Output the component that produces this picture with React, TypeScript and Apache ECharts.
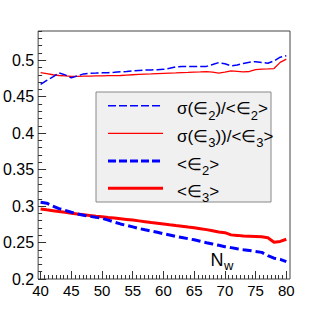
import React, { useEffect, useRef } from 'react';
import * as echarts from 'echarts';

const nw = [40, 41, 42, 43, 44, 45, 46, 47, 48, 49, 50, 51, 52, 53, 54, 55, 56, 57, 58, 59, 60,
  61, 62, 63, 64, 65, 66, 67, 68, 69, 70, 71, 72, 73, 74, 75, 76, 77, 78, 79, 80];

const sigmaEps2 = [0.4668, 0.4723, 0.477, 0.4826, 0.4798, 0.4757, 0.4785, 0.4812, 0.4822, 0.4823, 0.4826,
  0.4829, 0.4833, 0.484, 0.4846, 0.4853, 0.486, 0.4864, 0.4867, 0.4870, 0.4874,
  0.4888, 0.4908, 0.4912, 0.4912, 0.4912, 0.4912, 0.4915, 0.494, 0.4967, 0.495,
  0.4922, 0.4935, 0.4955, 0.4972, 0.498, 0.4968, 0.4958, 0.499, 0.5041, 0.506];

const sigmaEps3 = [0.483, 0.4815, 0.480, 0.479, 0.4785, 0.4778, 0.4778, 0.478, 0.4782, 0.4785, 0.4786,
  0.4787, 0.4787, 0.479, 0.4795, 0.480, 0.4805, 0.481, 0.4813, 0.4817, 0.482,
  0.4823, 0.4826, 0.483, 0.4833, 0.4837, 0.484, 0.4844, 0.4835, 0.4822, 0.4835,
  0.4853, 0.4847, 0.484, 0.4845, 0.487, 0.4877, 0.488, 0.4885, 0.497, 0.5015];

const meanEps2 = [0.3052, 0.304, 0.300, 0.2965, 0.294, 0.2915, 0.2892, 0.2875, 0.286, 0.2845, 0.2833,
  0.2808, 0.278, 0.2755, 0.2735, 0.2715, 0.2693, 0.2675, 0.2658, 0.264, 0.262,
  0.2603, 0.2585, 0.257, 0.2553, 0.2537, 0.2518, 0.2498, 0.248, 0.2462, 0.2443,
  0.243, 0.2415, 0.2402, 0.239, 0.2378, 0.2365, 0.232, 0.2285, 0.227, 0.2237];

const meanEps3 = [0.296, 0.2948, 0.2937, 0.2925, 0.2915, 0.2902, 0.289, 0.288, 0.287, 0.286, 0.2852,
  0.2843, 0.2835, 0.2826, 0.2817, 0.2808, 0.2797, 0.2786, 0.2775, 0.2765, 0.2755,
  0.2743, 0.2732, 0.2722, 0.2712, 0.2703, 0.269, 0.2677, 0.2662, 0.2645, 0.2635,
  0.2605, 0.2598, 0.2588, 0.2585, 0.2582, 0.2578, 0.2565, 0.2505, 0.2515, 0.2545];

const xTickLabels = [40, 45, 50, 55, 60, 65, 70, 75, 80];
const yTickLabels = [0.2, 0.25, 0.3, 0.35, 0.4, 0.45, 0.5];

const legendNames = ['σ(∈2)/<∈2>', 'σ(∈3))/<∈3>', '<∈2>', '<∈3>'];

const BLUE = '#0000ff';
const RED = '#ff0000';
const FONT = 'Liberation Sans, Arial, sans-serif';

function minorValues(from: number, to: number, step: number): number[] {
  const out: number[] = [];
  const n = Math.round((to - from) / step);
  for (let i = 0; i <= n; i++) out.push(Math.round((from + i * step) * 10000) / 10000);
  return out;
}

export default function App() {
  const ref = useRef<HTMLDivElement>(null);
  useEffect(() => {
    if (!ref.current) return;
    const chart = echarts.init(ref.current, null, { renderer: 'svg' });
    const xMin = 39.6, xMax = 80.6, yMin = 0.2, yMax = 0.54;
    const xMinor = minorValues(40, 80, 0.625);
    const yMinor = minorValues(0.2, 0.54, 0.01);
    const tickColor = '#333';

    const mk = (vals: number[]) => nw.map((x, i) => [x, vals[i]]);

    const rich = {
      m: { fontSize: 17, fontFamily: FONT, color: '#000', lineHeight: 30 },
      s: { fontSize: 13, fontFamily: FONT, color: '#000', lineHeight: 14, padding: [13, 0, 0, 0] },
    };
    const legendText = [
      '{m|σ(∈}{s|2}{m|)/<∈}{s|2}{m|>}',
      '{m|σ(∈}{s|3}{m|))/<∈}{s|3}{m|>}',
      '{m|<∈}{s|2}{m|>}',
      '{m|<∈}{s|3}{m|>}',
    ];
    const rowsY = [105.7, 133.3, 161, 188.3];
    const legendStyles = [
      { stroke: BLUE, lineWidth: 1.5, lineDash: [8, 3] },
      { stroke: RED, lineWidth: 1.3, lineDash: null as any },
      { stroke: BLUE, lineWidth: 3, lineDash: [8, 3] },
      { stroke: RED, lineWidth: 3, lineDash: null as any },
    ];

    const graphics: any[] = [
      {
        type: 'rect', shape: { x: 96, y: 92, width: 175, height: 110 },
        style: { fill: '#f0f0f0', stroke: '#888', lineWidth: 1 }, z: 10,
      },
    ];
    rowsY.forEach((y, i) => {
      graphics.push({
        type: 'line', shape: { x1: 108, y1: y, x2: 163, y2: y },
        style: { ...legendStyles[i], fill: 'none' }, z: 11,
      });
      graphics.push({
        type: 'text', x: 177, y: y + 3, z: 11,
        style: { text: legendText[i], rich, verticalAlign: 'middle', align: 'left' },
        name: legendNames[i],
      });
    });
    graphics.push({
      type: 'text', x: 210.5, y: 260, z: 11,
      style: { text: 'N', fontSize: 18, fontFamily: FONT, fill: '#000', verticalAlign: 'middle' },
    });
    graphics.push({
      type: 'text', x: 224, y: 265, z: 11,
      style: { text: 'w', fontSize: 13, fontFamily: FONT, fill: '#000', verticalAlign: 'middle' },
    });

    const series: any[] = [
      { name: legendNames[1], data: mk(sigmaEps3), color: RED, lineStyle: { color: RED, width: 1.3 } },
      { name: legendNames[0], data: mk(sigmaEps2), color: BLUE, lineStyle: { color: BLUE, width: 1.5, type: [8, 3] } },
      { name: legendNames[3], data: mk(meanEps3), color: RED, lineStyle: { color: RED, width: 3 } },
      { name: legendNames[2], data: mk(meanEps2), color: BLUE, lineStyle: { color: BLUE, width: 3, type: [9, 4] } },
    ].map((s) => ({ ...s, type: 'line', showSymbol: false, symbol: 'none', xAxisIndex: 0, yAxisIndex: 0, clip: true }));

    chart.setOption({
      animation: false,
      backgroundColor: '#fff',
      grid: { left: 33.3, top: 31, right: 32, bottom: 32, show: true, borderColor: '#444', borderWidth: 1, backgroundColor: 'transparent' },
      xAxis: [
        {
          type: 'value', min: xMin, max: xMax, position: 'bottom',
          axisLine: { show: false }, splitLine: { show: false },
          axisTick: { show: true, inside: true, length: 8, customValues: xTickLabels, lineStyle: { color: tickColor } },
          axisLabel: { customValues: xTickLabels, fontSize: 15, fontFamily: FONT, color: '#000', margin: 4 },
        },
        {
          type: 'value', min: xMin, max: xMax, position: 'bottom',
          axisLine: { show: false }, splitLine: { show: false },
          axisTick: { show: true, inside: true, length: 4, customValues: xMinor, lineStyle: { color: tickColor } },
          axisLabel: { show: false },
        },
      ],
      yAxis: [
        {
          type: 'value', min: yMin, max: yMax, position: 'left',
          axisLine: { show: false }, splitLine: { show: false },
          axisTick: { show: true, inside: true, length: 8, customValues: yTickLabels, lineStyle: { color: tickColor } },
          axisLabel: { customValues: yTickLabels, fontSize: 16, fontFamily: FONT, color: '#000', margin: 4, formatter: (v: number) => String(v) },
        },
        {
          type: 'value', min: yMin, max: yMax, position: 'left',
          axisLine: { show: false }, splitLine: { show: false },
          axisTick: { show: true, inside: true, length: 4, customValues: yMinor, lineStyle: { color: tickColor } },
          axisLabel: { show: false },
        },
      ],
      series,
      graphic: graphics,
    });
    return () => chart.dispose();
  }, []);
  return <div ref={ref} style={{ position: 'fixed', left: 0, top: 0, width: 322, height: 311, background: '#fff' }} />;
}
